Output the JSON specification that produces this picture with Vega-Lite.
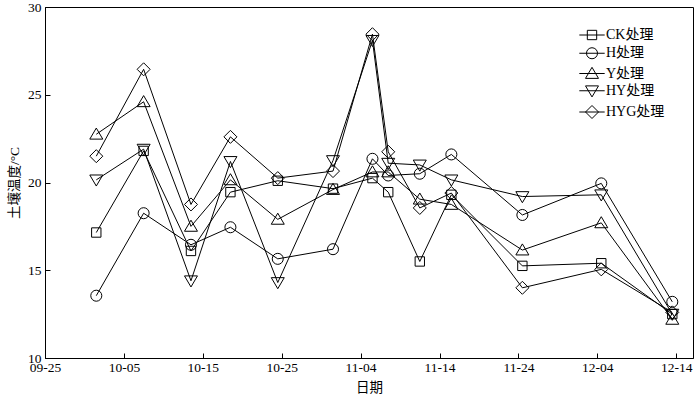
{
  "$schema": "https://vega.github.io/schema/vega-lite/v6.json",
  "width": 648,
  "height": 351,
  "autosize": {"type": "none"},
  "padding": {"left": 45, "top": 7, "right": 7, "bottom": 38},
  "background": "white",
  "config": {
    "view": {"stroke": "black", "strokeWidth": 1},
    "font": "Liberation Serif, Noto Sans CJK SC",
    "axis": {
      "domainColor": "black",
      "tickColor": "black",
      "labelColor": "black",
      "titleColor": "black",
      "labelFont": "Liberation Serif",
      "labelFontSize": 13.5,
      "titleFont": "Liberation Serif, Noto Sans CJK SC",
      "titleFontSize": 13.5,
      "titleFontWeight": "normal",
      "grid": false,
      "tickSize": -5,
      "domainWidth": 1,
      "tickWidth": 1
    },
    "legend": {
      "labelFont": "Liberation Serif, Noto Sans CJK SC",
      "labelFontSize": 14,
      "labelColor": "black"
    }
  },
  "data": {
    "values": [
      {"date": "2019-10-01T12:00:00", "series": "CK处理", "temp": 17.15},
      {"date": "2019-10-07T12:00:00", "series": "CK处理", "temp": 21.8},
      {"date": "2019-10-13T12:00:00", "series": "CK处理", "temp": 16.1},
      {"date": "2019-10-18T12:00:00", "series": "CK处理", "temp": 19.45},
      {"date": "2019-10-24T12:00:00", "series": "CK处理", "temp": 20.1},
      {"date": "2019-10-31T12:00:00", "series": "CK处理", "temp": 19.65},
      {"date": "2019-11-05T12:00:00", "series": "CK处理", "temp": 20.25},
      {"date": "2019-11-07T12:00:00", "series": "CK处理", "temp": 19.45},
      {"date": "2019-11-11T12:00:00", "series": "CK处理", "temp": 15.5},
      {"date": "2019-11-15T12:00:00", "series": "CK处理", "temp": 19.3},
      {"date": "2019-11-24T12:00:00", "series": "CK处理", "temp": 15.25},
      {"date": "2019-12-04T12:00:00", "series": "CK处理", "temp": 15.4},
      {"date": "2019-12-13T12:00:00", "series": "CK处理", "temp": 12.5},

      {"date": "2019-10-01T12:00:00", "series": "H处理", "temp": 13.55},
      {"date": "2019-10-07T12:00:00", "series": "H处理", "temp": 18.25},
      {"date": "2019-10-13T12:00:00", "series": "H处理", "temp": 16.45},
      {"date": "2019-10-18T12:00:00", "series": "H处理", "temp": 17.45},
      {"date": "2019-10-24T12:00:00", "series": "H处理", "temp": 15.65},
      {"date": "2019-10-31T12:00:00", "series": "H处理", "temp": 16.2},
      {"date": "2019-11-05T12:00:00", "series": "H处理", "temp": 21.35},
      {"date": "2019-11-07T12:00:00", "series": "H处理", "temp": 20.4},
      {"date": "2019-11-11T12:00:00", "series": "H处理", "temp": 20.5},
      {"date": "2019-11-15T12:00:00", "series": "H处理", "temp": 21.6},
      {"date": "2019-11-24T12:00:00", "series": "H处理", "temp": 18.15},
      {"date": "2019-12-04T12:00:00", "series": "H处理", "temp": 19.95},
      {"date": "2019-12-13T12:00:00", "series": "H处理", "temp": 13.2},

      {"date": "2019-10-01T12:00:00", "series": "Y处理", "temp": 22.75},
      {"date": "2019-10-07T12:00:00", "series": "Y处理", "temp": 24.6},
      {"date": "2019-10-13T12:00:00", "series": "Y处理", "temp": 17.5},
      {"date": "2019-10-18T12:00:00", "series": "Y处理", "temp": 20.15},
      {"date": "2019-10-24T12:00:00", "series": "Y处理", "temp": 17.9},
      {"date": "2019-10-31T12:00:00", "series": "Y处理", "temp": 19.6},
      {"date": "2019-11-05T12:00:00", "series": "Y处理", "temp": 20.6},
      {"date": "2019-11-07T12:00:00", "series": "Y处理", "temp": 20.6},
      {"date": "2019-11-11T12:00:00", "series": "Y处理", "temp": 19.05},
      {"date": "2019-11-15T12:00:00", "series": "Y处理", "temp": 18.75},
      {"date": "2019-11-24T12:00:00", "series": "Y处理", "temp": 16.15},
      {"date": "2019-12-04T12:00:00", "series": "Y处理", "temp": 17.7},
      {"date": "2019-12-13T12:00:00", "series": "Y处理", "temp": 12.2},

      {"date": "2019-10-01T12:00:00", "series": "HY处理", "temp": 20.15},
      {"date": "2019-10-07T12:00:00", "series": "HY处理", "temp": 21.9},
      {"date": "2019-10-13T12:00:00", "series": "HY处理", "temp": 14.4},
      {"date": "2019-10-18T12:00:00", "series": "HY处理", "temp": 21.2},
      {"date": "2019-10-24T12:00:00", "series": "HY处理", "temp": 14.3},
      {"date": "2019-10-31T12:00:00", "series": "HY处理", "temp": 21.25},
      {"date": "2019-11-05T12:00:00", "series": "HY处理", "temp": 28.1},
      {"date": "2019-11-07T12:00:00", "series": "HY处理", "temp": 21.1},
      {"date": "2019-11-11T12:00:00", "series": "HY处理", "temp": 21.0},
      {"date": "2019-11-15T12:00:00", "series": "HY处理", "temp": 20.15},
      {"date": "2019-11-24T12:00:00", "series": "HY处理", "temp": 19.2},
      {"date": "2019-12-04T12:00:00", "series": "HY处理", "temp": 19.3},
      {"date": "2019-12-13T12:00:00", "series": "HY处理", "temp": 12.5},

      {"date": "2019-10-01T12:00:00", "series": "HYG处理", "temp": 21.5},
      {"date": "2019-10-07T12:00:00", "series": "HYG处理", "temp": 26.45},
      {"date": "2019-10-13T12:00:00", "series": "HYG处理", "temp": 18.75},
      {"date": "2019-10-18T12:00:00", "series": "HYG处理", "temp": 22.6},
      {"date": "2019-10-24T12:00:00", "series": "HYG处理", "temp": 20.25},
      {"date": "2019-10-31T12:00:00", "series": "HYG处理", "temp": 20.65},
      {"date": "2019-11-05T12:00:00", "series": "HYG处理", "temp": 28.45},
      {"date": "2019-11-07T12:00:00", "series": "HYG处理", "temp": 21.75},
      {"date": "2019-11-11T12:00:00", "series": "HYG处理", "temp": 18.55},
      {"date": "2019-11-15T12:00:00", "series": "HYG处理", "temp": 19.4},
      {"date": "2019-11-24T12:00:00", "series": "HYG处理", "temp": 14.0},
      {"date": "2019-12-04T12:00:00", "series": "HYG处理", "temp": 15.05},
      {"date": "2019-12-13T12:00:00", "series": "HYG处理", "temp": 12.6}
    ]
  },
  "encoding": {
    "x": {
      "field": "date",
      "type": "temporal",
      "title": "日期",
      "scale": {"domain": [{"year": 2019, "month": 9, "date": 25}, {"year": 2019, "month": 12, "date": 16, "hours": 3}]},
      "axis": {
        "format": "%m-%d",
        "values": [
          {"year": 2019, "month": 9, "date": 25},
          {"year": 2019, "month": 10, "date": 5},
          {"year": 2019, "month": 10, "date": 15},
          {"year": 2019, "month": 10, "date": 25},
          {"year": 2019, "month": 11, "date": 4},
          {"year": 2019, "month": 11, "date": 14},
          {"year": 2019, "month": 11, "date": 24},
          {"year": 2019, "month": 12, "date": 4},
          {"year": 2019, "month": 12, "date": 14}
        ],
        "labelPadding": 7,
        "labelFlush": false,
        "labelOverlap": false,
        "titlePadding": 7
      }
    },
    "y": {
      "field": "temp",
      "type": "quantitative",
      "title": "土壤温度/°C",
      "scale": {"domain": [10, 30], "nice": false, "zero": false},
      "axis": {"values": [10, 15, 20, 25, 30], "labelPadding": 9, "titlePadding": 6, "labelFlush": false}
    }
  },
  "resolve": {"scale": {"shape": "independent"}, "legend": {"shape": "independent"}},
  "layer": [
    {
      "mark": {"type": "line", "color": "black", "strokeWidth": 1},
      "encoding": {"detail": {"field": "series"}}
    },
    {
      "mark": {"type": "point", "filled": false, "color": "black", "stroke": "black", "strokeWidth": 1, "size": 169, "opacity": 1},
      "encoding": {
        "shape": {
          "field": "series",
          "type": "nominal",
          "scale": {
            "domain": ["CK处理", "H处理", "Y处理", "HY处理", "HYG处理"],
            "range": [
              "M-0.72,-0.72H0.72V0.72H-0.72Z",
              "M0.85,0A0.85,0.85,0,1,1,-0.85,0A0.85,0.85,0,1,1,0.85,0Z",
              "M0,-0.95L1,0.75H-1Z",
              "M0,0.95L1,-0.75H-1Z",
              "M0,-1L1,0L0,1L-1,0Z"
            ]
          },
          "legend": null
        }
      }
    },
    {
      "mark": {"type": "point", "filled": false, "color": "black", "stroke": "black", "strokeWidth": 1, "size": 169, "opacity": 0},
      "encoding": {
        "shape": {
          "field": "series",
          "type": "nominal",
          "scale": {
            "domain": ["CK处理", "H处理", "Y处理", "HY处理", "HYG处理"],
            "range": [
              "M-1.95,0H1.95M-0.72,-0.72H0.72V0.72H-0.72Z",
              "M-1.95,0H1.95M0.85,0A0.85,0.85,0,1,1,-0.85,0A0.85,0.85,0,1,1,0.85,0Z",
              "M-1.95,0H1.95M0,-0.95L1,0.75H-1Z",
              "M-1.95,0H1.95M0,0.95L1,-0.75H-1Z",
              "M-1.95,0H1.95M0,-1L1,0L0,1L-1,0Z"
            ]
          },
          "legend": {
            "title": null,
            "orient": "none",
            "legendX": 540,
            "legendY": 21,
            "padding": 0,
            "symbolSize": 169,
            "symbolOpacity": 1,
            "symbolStrokeColor": "black",
            "symbolStrokeWidth": 1,
            "symbolFillColor": "transparent",
            "labelOffset": 7,
            "rowPadding": 3.25
          }
        }
      }
    }
  ]
}
